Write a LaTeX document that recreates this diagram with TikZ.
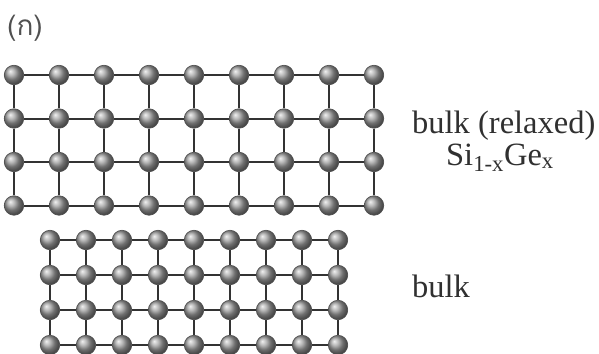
\documentclass[tikz,border=0pt]{standalone}
\usepackage{fontspec}
\setmainfont{Liberation Serif}
\newfontfamily\thaifont[Script=Thai]{Loma}
\usetikzlibrary{positioning}
\definecolor{cbond}{HTML}{333333}
\definecolor{ctext}{HTML}{303030}
\definecolor{ctag}{HTML}{505050}

\begin{document}
\begin{tikzpicture}[x=1pt, y=-1pt,
  atom/.style={
    circle, shading=ball, ball color=gray!75, draw=black!70,
    line width=0.6pt, minimum size=19.5pt, inner sep=0pt
  },
  bond/.style={draw=cbond, line width=2pt},
  caption/.style={
    text=ctext, inner sep=0pt, font=\fontsize{32.5}{38}\selectfont
  }
]
\useasboundingbox (0,0) rectangle (599,353);

% ============================================================
% Upper lattice: 9 x 4 atoms, wide spacing
% ============================================================
\foreach \i in {0,...,8} {
  \foreach \j in {0,...,3} {
    \node[atom] (t-\i-\j) at (14+45*\i, 75+43.5*\j) {};
  }
}
% horizontal bonds
\foreach \i in {0,...,7} {
  \pgfmathtruncatemacro{\k}{\i+1}
  \foreach \j in {0,...,3} {
    \draw[bond] (t-\i-\j) -- (t-\k-\j);
  }
}
% vertical bonds
\foreach \i in {0,...,8} {
  \foreach \j in {0,...,2} {
    \pgfmathtruncatemacro{\k}{\j+1}
    \draw[bond] (t-\i-\j) -- (t-\i-\k);
  }
}

% ============================================================
% Lower lattice: 9 x 4 atoms, compressed spacing
% ============================================================
\foreach \i in {0,...,8} {
  \foreach \j in {0,...,3} {
    \node[atom] (b-\i-\j) at (50+36*\i, 240+35*\j) {};
  }
}
\foreach \i in {0,...,7} {
  \pgfmathtruncatemacro{\k}{\i+1}
  \foreach \j in {0,...,3} {
    \draw[bond] (b-\i-\j) -- (b-\k-\j);
  }
}
\foreach \i in {0,...,8} {
  \foreach \j in {0,...,2} {
    \pgfmathtruncatemacro{\k}{\j+1}
    \draw[bond] (b-\i-\j) -- (b-\i-\k);
  }
}

% ============================================================
% Labels
% ============================================================
\node[text=ctag, inner sep=0pt, anchor=base west,
      font=\thaifont\fontsize{28}{32}\selectfont]
  (tag) at (7,36) {(ก)};

\node[caption, anchor=base west] (relaxed) at (412,133) {bulk (relaxed)};
\node[caption, anchor=base] (alloy) at (500,165)
  {Si\textsubscript{1-x}Ge\textsubscript{x}};
\node[caption, anchor=base west] (strained) at (412,297) {bulk};

\end{tikzpicture}
\end{document}
